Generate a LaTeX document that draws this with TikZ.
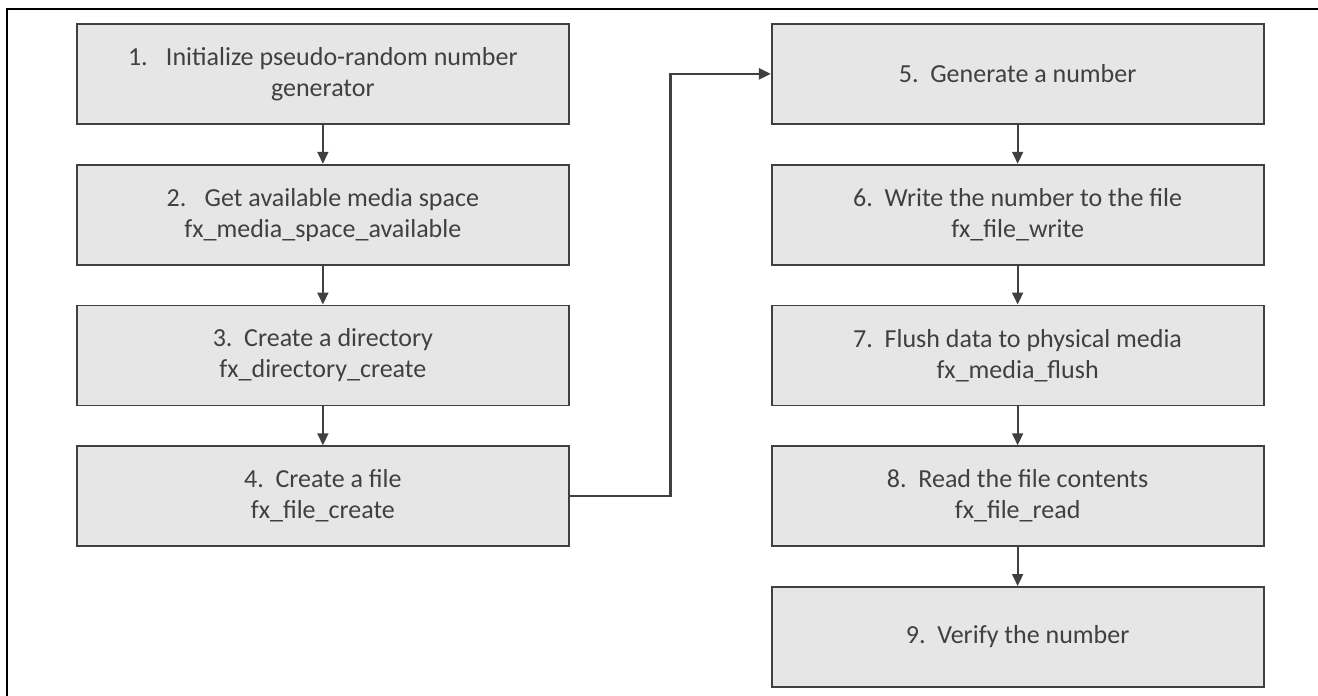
\documentclass[tikz,border=0pt]{standalone}
\usepackage{fontspec}
\setmainfont{Carlito}
\usepackage{tikz}
\usetikzlibrary{positioning,arrows.meta}
\definecolor{boxfill}{HTML}{E6E6E6}
\definecolor{boxline}{HTML}{404040}
\newcommand{\stepno}[2][0.45em]{#2.\hspace{#1}}

\begin{document}
\begin{tikzpicture}[
    stepbox/.style={draw=boxline, fill=boxfill, line width=1pt, inner sep=0pt,
                    minimum width=9.84cm, minimum height=2cm, align=center,
                    text=boxline, font=\fontsize{14.8}{17.6}\selectfont},
    flow/.style={draw=boxline, line width=1pt, -{Triangle[length=0.24cm,width=0.22cm]}},
    node distance=0.78cm
  ]
  \useasboundingbox (0,0) rectangle (26.36,-13.9);
  % frame
  \draw[line width=1.4pt] (0.14,-14.5) -- (0.14,-0.18) -- (27,-0.18);

  % left column
  \node[stepbox, anchor=north west] (s1) at (1.52,-0.46)
       {\stepno[0.7em]{1}Initialize pseudo-random number\\generator};
  \node[stepbox, below=of s1] (s2)
       {\stepno[0.7em]{2}Get available media space\\fx\_media\_space\_available};
  \node[stepbox, below=of s2] (s3) {\stepno{3}Create a directory\\fx\_directory\_create};
  \node[stepbox, below=of s3] (s4) {\stepno{4}Create a file\\fx\_file\_create};

  % right column
  \node[stepbox, right=4.02cm of s1] (s5) {\stepno{5}Generate a number};
  \node[stepbox, below=of s5] (s6) {\stepno{6}Write the number to the file\\fx\_file\_write};
  \node[stepbox, below=of s6] (s7) {\stepno{7}Flush data to physical media\\fx\_media\_flush};
  \node[stepbox, below=of s7] (s8) {\stepno{8}Read the file contents\\fx\_file\_read};
  \node[stepbox, below=of s8] (s9) {\stepno{9}Verify the number};

  \draw[flow] (s1) -- (s2);
  \draw[flow] (s2) -- (s3);
  \draw[flow] (s3) -- (s4);
  \draw[flow, line width=1.5pt] (s4.east) -| ([xshift=-2.01cm]s5.west) -- (s5.west);
  \draw[flow] (s5) -- (s6);
  \draw[flow] (s6) -- (s7);
  \draw[flow] (s7) -- (s8);
  \draw[flow] (s8) -- (s9);
\end{tikzpicture}
\end{document}
